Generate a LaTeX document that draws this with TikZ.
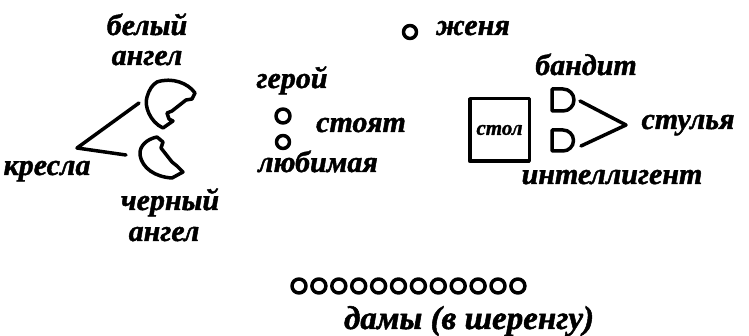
\documentclass[tikz,border=0pt]{standalone}
\usepackage{fontspec}
\setmainfont{Liberation Serif}[BoldItalicFeatures={FakeBold=1.5}]
\usetikzlibrary{calc}
\definecolor{ink}{RGB}{0, 0, 0}

\begin{document}
\begin{tikzpicture}[x=1pt, y=-1pt,
  hand/.style={font=\fontsize{30}{32}\selectfont\bfseries\itshape, inner sep=0pt, anchor=base},
  stroke/.style={draw=ink, line width=3.5pt, line cap=round, line join=round},
  seat/.style={stroke, circle, minimum size=14pt, inner sep=0pt}]
  \useasboundingbox (0,0) rectangle (749,336);

  % armchairs
  \path[stroke] (157,82) .. controls (172,77) and (188,83) .. (195,93)
    -- (192,99) -- (186,100) -- (172,111) -- (167,113) -- (169,119) -- (173,121) -- (163,128)
    .. controls (150,122) and (144,106) .. (147,97)
    .. controls (149,90) and (152,85) .. (157,82) -- cycle;
  \path[stroke] (157,137) -- (163,142) -- (161,148) -- (172,162) -- (177,166) -- (183,172) -- (172,178)
    .. controls (155,177) and (142,168) .. (140,155)
    .. controls (139,146) and (147,139) .. (157,137) -- cycle;

  \coordinate (chA) at (139,103);
  \coordinate (chB) at (126,155);
  \coordinate (kr)  at (77,148);
  \path[stroke] (chA) -- (kr) -- (chB);

  \node[hand] (belyj)  at (147,35)  {белый};
  \node[hand] (angelA) at (147,65)  {ангел};
  \node[hand] (kresla) at (47,175)  {кресла};
  \node[hand] (chernyj) at (170,210) {черный};
  \node[hand] (angelB) at (164,241) {ангел};

  % actors
  \node[seat, minimum size=13pt] (zhenja) at (410,32) {};
  \node[hand] (zhenjaL) at (473,35) {женя};

  \node[seat] (geroj) at (283,116) {};
  \node[seat, minimum size=13pt] (ljub) at (283,142) {};
  \node[hand] (gerojL) at (292,88)  {герой};
  \node[hand] (stojat) at (361,132) {стоят};
  \node[hand] (ljubL)  at (318,172) {любимая};

  % table and chairs
  \node[stroke, minimum width=59.5pt, minimum height=62.5pt, inner sep=0pt,
        font=\fontsize{21}{22}\selectfont\bfseries\itshape] (stol) at (499.5,130) {стол};

  \path[stroke] (552,89) -- (552,111) -- (563,111) arc (90:-90:11) -- cycle;
  \path[stroke] (552,130) -- (552,151) -- (563,151) arc (90:-90:10.5) -- cycle;

  \coordinate (dA) at (580,101);
  \coordinate (dB) at (581,146);
  \coordinate (st) at (626,125);
  \path[stroke] (dA) -- (st) -- (dB);

  \node[hand] (bandit)  at (586,75)  {бандит};
  \node[hand] (stulja)  at (688,129) {стулья};
  \node[hand] (intel)   at (612,184) {интеллигент};

  % ladies in a row
  \foreach \i in {0,...,11}
    \node[seat] (dama\i) at ({299+19.9*\i},286) {};
  \node[hand, font=\fontsize{33}{34}\selectfont\bfseries\itshape] (damy) at (469,329) {дамы (в шеренгу)};

\end{tikzpicture}
\end{document}
